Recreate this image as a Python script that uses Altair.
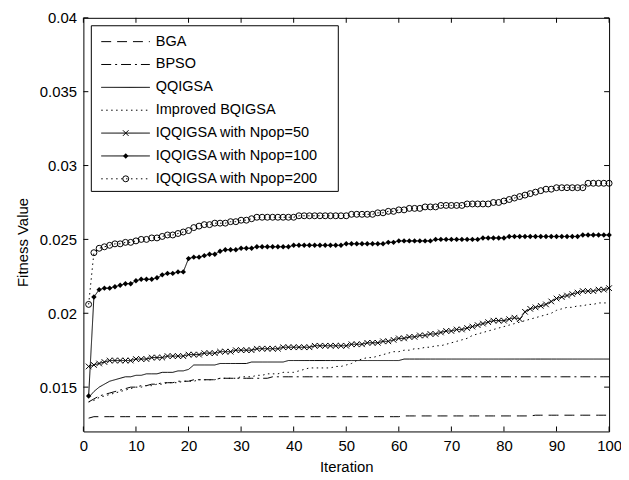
import altair as alt
import pandas as pd

iterations = list(range(1, 101))

series_names = [
    "BGA",
    "BPSO",
    "QQIGSA",
    "Improved BQIGSA",
    "IQQIGSA with Npop=50",
    "IQQIGSA with Npop=100",
    "IQQIGSA with Npop=200",
]

bga = [
    0.0129, 0.0130, 0.0130, 0.0130, 0.0130, 0.0130, 0.0130, 0.0130, 0.0130, 0.0130,
    0.0130, 0.0130, 0.0130, 0.0130, 0.0130, 0.0130, 0.0130, 0.0130, 0.0130, 0.0130,
    0.0130, 0.0130, 0.0130, 0.0130, 0.0130, 0.0130, 0.0130, 0.0130, 0.0130, 0.0130,
    0.0130, 0.0130, 0.0130, 0.0130, 0.0130, 0.0130, 0.0130, 0.0130, 0.0130, 0.0130,
    0.0130, 0.0130, 0.0130, 0.0130, 0.0130, 0.0130, 0.0130, 0.0130, 0.0130, 0.0130,
    0.0130, 0.0130, 0.0130, 0.0130, 0.0130, 0.0130, 0.0130, 0.0130, 0.0130, 0.0130,
    0.01305, 0.01305, 0.01305, 0.01305, 0.01305, 0.01305, 0.01305, 0.01305, 0.01305, 0.01305,
    0.01305, 0.01305, 0.01305, 0.01305, 0.01305, 0.01305, 0.01305, 0.01305, 0.01305, 0.01305,
    0.01305, 0.01305, 0.01305, 0.01305, 0.01305, 0.0131, 0.0131, 0.0131, 0.0131, 0.0131,
    0.0131, 0.0131, 0.0131, 0.0131, 0.0131, 0.0131, 0.0131, 0.0131, 0.0131, 0.0131,
]

bpso = [
    0.0140, 0.0142, 0.0144, 0.0145, 0.0146, 0.0147, 0.0148, 0.0149, 0.0150, 0.0150,
    0.0151, 0.0151, 0.0152, 0.0152, 0.0153, 0.0153, 0.0153, 0.0154, 0.0154, 0.0154,
    0.0155, 0.0155, 0.0155, 0.0155, 0.0155, 0.0156, 0.0156, 0.0156, 0.0156, 0.0156,
    0.0156, 0.0156, 0.0156, 0.0156, 0.0156, 0.0157, 0.0157, 0.0157, 0.0157, 0.0157,
    0.0157, 0.0157, 0.0157, 0.0157, 0.0157, 0.0157, 0.0157, 0.0157, 0.0157, 0.0157,
    0.0157, 0.0157, 0.0157, 0.0157, 0.0157, 0.0157, 0.0157, 0.0157, 0.0157, 0.0157,
    0.0157, 0.0157, 0.0157, 0.0157, 0.0157, 0.0157, 0.0157, 0.0157, 0.0157, 0.0157,
    0.0157, 0.0157, 0.0157, 0.0157, 0.0157, 0.0157, 0.0157, 0.0157, 0.0157, 0.0157,
    0.0157, 0.0157, 0.0157, 0.0157, 0.0157, 0.0157, 0.0157, 0.0157, 0.0157, 0.0157,
    0.0157, 0.0157, 0.0157, 0.0157, 0.0157, 0.0157, 0.0157, 0.0157, 0.0157, 0.0157,
]

qqigsa = [
    0.0143, 0.0147, 0.0150, 0.0152, 0.0154, 0.0155, 0.0156, 0.0157, 0.0157, 0.0158,
    0.0158, 0.0159, 0.0159, 0.0159, 0.0160, 0.0160, 0.0160, 0.0161, 0.0161, 0.0162,
    0.0165, 0.0165, 0.0165, 0.0165, 0.0165, 0.0166, 0.0166, 0.0166, 0.0166, 0.0166,
    0.0166, 0.0167, 0.0167, 0.0167, 0.0167, 0.0167, 0.0167, 0.0167, 0.0168, 0.0168,
    0.0168, 0.0168, 0.0168, 0.0168, 0.0168, 0.0168, 0.0168, 0.0168, 0.0168, 0.0168,
    0.0168, 0.0168, 0.0168, 0.0168, 0.0168, 0.0168, 0.0168, 0.0168, 0.0168, 0.0168,
    0.0169, 0.0169, 0.0169, 0.0169, 0.0169, 0.0169, 0.0169, 0.0169, 0.0169, 0.0169,
    0.0169, 0.0169, 0.0169, 0.0169, 0.0169, 0.0169, 0.0169, 0.0169, 0.0169, 0.0169,
    0.0169, 0.0169, 0.0169, 0.0169, 0.0169, 0.0169, 0.0169, 0.0169, 0.0169, 0.0169,
    0.0169, 0.0169, 0.0169, 0.0169, 0.0169, 0.0169, 0.0169, 0.0169, 0.0169, 0.0169,
]

improved_bqigsa = [
    0.0140, 0.0141, 0.0143, 0.0144, 0.0145, 0.0146, 0.0147, 0.0148, 0.0149, 0.0150,
    0.0150, 0.0151, 0.0151, 0.0152, 0.0152, 0.0153, 0.0153, 0.0153, 0.0154, 0.0154,
    0.0154, 0.0155, 0.0155, 0.0155, 0.0155, 0.0156, 0.0156, 0.0156, 0.0156, 0.0157,
    0.0157, 0.0157, 0.0158, 0.0158, 0.0159, 0.0159, 0.0159, 0.0160, 0.0160, 0.0160,
    0.0161, 0.0162, 0.0163, 0.0163, 0.0163, 0.0163, 0.0163, 0.0164, 0.0164, 0.0165,
    0.0166, 0.0168, 0.0169, 0.0170, 0.0170, 0.0171, 0.0172, 0.0173, 0.0174, 0.0174,
    0.0175, 0.0175, 0.0176, 0.0176, 0.0177, 0.0177, 0.0178, 0.0178, 0.0179, 0.0180,
    0.0181, 0.0182, 0.0183, 0.0185, 0.0186, 0.0187, 0.0188, 0.0189, 0.0190, 0.0191,
    0.0192, 0.0193, 0.0194, 0.0195, 0.0196, 0.0197, 0.0198, 0.0199, 0.0200, 0.0202,
    0.0203, 0.0204, 0.0204, 0.0205, 0.0205, 0.0206, 0.0206, 0.0207, 0.0207, 0.0207,
]

npop50 = [
    0.0164, 0.0165, 0.0166, 0.0167, 0.0168, 0.0168, 0.0168, 0.0168, 0.0168, 0.0169,
    0.0169, 0.0169, 0.0170, 0.0170, 0.0170, 0.0171, 0.0171, 0.0171, 0.0171, 0.0172,
    0.0172, 0.0172, 0.0173, 0.0173, 0.0173, 0.0174, 0.0174, 0.0174, 0.0175, 0.0175,
    0.0175, 0.0175, 0.0176, 0.0176, 0.0176, 0.0176, 0.0176, 0.0177, 0.0177, 0.0177,
    0.0177, 0.0177, 0.0177, 0.0178, 0.0178, 0.0178, 0.0178, 0.0178, 0.0178, 0.0178,
    0.0179, 0.0179, 0.0179, 0.0180, 0.0180, 0.0180, 0.0181, 0.0181, 0.0182, 0.0183,
    0.0183, 0.0184, 0.0184, 0.0185, 0.0185, 0.0186, 0.0186, 0.0187, 0.0188, 0.0188,
    0.0189, 0.0189, 0.0190, 0.0191, 0.0192, 0.0193, 0.0194, 0.0195, 0.0195, 0.0195,
    0.0196, 0.0197, 0.0196, 0.0201, 0.0203, 0.0204, 0.0205, 0.0206, 0.0208, 0.0210,
    0.0211, 0.0212, 0.0213, 0.0214, 0.0215, 0.0215, 0.0215, 0.0216, 0.0216, 0.0217,
]

npop100 = [
    0.0144, 0.0211, 0.0216, 0.0217, 0.0217, 0.0218, 0.0219, 0.0220, 0.0220, 0.0222,
    0.0223, 0.0223, 0.0223, 0.0224, 0.0226, 0.0227, 0.0227, 0.0228, 0.0228, 0.0237,
    0.0238, 0.0238, 0.0239, 0.0240, 0.0240, 0.0242, 0.0243, 0.0243, 0.0243, 0.0244,
    0.0244, 0.0244, 0.0245, 0.0245, 0.0245, 0.0245, 0.0245, 0.0245, 0.0245, 0.0246,
    0.0246, 0.0246, 0.0246, 0.0246, 0.0246, 0.0246, 0.0246, 0.0246, 0.0246, 0.0247,
    0.0247, 0.0247, 0.0247, 0.0247, 0.0247, 0.0247, 0.0247, 0.0248, 0.0248, 0.0249,
    0.0249, 0.0249, 0.0249, 0.0249, 0.0249, 0.0249, 0.0250, 0.0250, 0.0250, 0.0250,
    0.0250, 0.0250, 0.0250, 0.0250, 0.0250, 0.0251, 0.0251, 0.0251, 0.0251, 0.0251,
    0.0252, 0.0252, 0.0252, 0.0252, 0.0252, 0.0252, 0.0252, 0.0252, 0.0252, 0.0252,
    0.0252, 0.0252, 0.0252, 0.0252, 0.0253, 0.0253, 0.0253, 0.0253, 0.0253, 0.0253,
]

npop200 = [
    0.0206, 0.0241, 0.0244, 0.0245, 0.0246, 0.0247, 0.0247, 0.0248, 0.0248, 0.0249,
    0.0250, 0.0250, 0.0251, 0.0251, 0.0252, 0.0253, 0.0253, 0.0254, 0.0255, 0.0256,
    0.0258, 0.0259, 0.0260, 0.0260, 0.0261, 0.0261, 0.0261, 0.0262, 0.0262, 0.0263,
    0.0263, 0.0264, 0.0265, 0.0265, 0.0265, 0.0265, 0.0265, 0.0265, 0.0265, 0.0265,
    0.0266, 0.0266, 0.0266, 0.0266, 0.0266, 0.0266, 0.0266, 0.0266, 0.0266, 0.0266,
    0.0267, 0.0267, 0.0267, 0.0267, 0.0267, 0.0268, 0.0268, 0.0269, 0.0269, 0.0270,
    0.0270, 0.0271, 0.0271, 0.0271, 0.0272, 0.0272, 0.0272, 0.0273, 0.0273, 0.0273,
    0.0273, 0.0273, 0.0274, 0.0274, 0.0274, 0.0274, 0.0274, 0.0275, 0.0275, 0.0276,
    0.0277, 0.0278, 0.0279, 0.0280, 0.0281, 0.0282, 0.0283, 0.0284, 0.0284, 0.0285,
    0.0285, 0.0285, 0.0285, 0.0285, 0.0285, 0.0288, 0.0288, 0.0288, 0.0288, 0.0288,
]

all_values = [bga, bpso, qqigsa, improved_bqigsa, npop50, npop100, npop200]

x_ticks = [0, 10, 20, 30, 40, 50, 60, 70, 80, 90, 100]
y_ticks = [0.015, 0.02, 0.025, 0.03, 0.035, 0.04]

# ---- styling ----
FONT = "Liberation Sans"
W, H = 530, 417
dash_range = [[10, 6], [10, 4, 2, 4], [1, 0], [1.5, 3.5], [1, 0], [1, 0], [1.5, 3.5]]
marker_specs = {
    "IQQIGSA with Npop=50": dict(shape="M-1,-1L1,1M-1,1L1,-1", filled=False, size=32),
    "IQQIGSA with Npop=100": dict(shape="diamond", filled=True, size=30),
    "IQQIGSA with Npop=200": dict(shape="circle", filled=False, size=36),
}

rows = []
for name, vals in zip(series_names, all_values):
    for it, v in zip(iterations, vals):
        rows.append({"series": name, "iteration": it, "value": v})
df = pd.DataFrame(rows)

xs = alt.Scale(domain=[0, 100], nice=False, zero=False)
ys = alt.Scale(domain=[0.012, 0.04], nice=False, zero=False)
dash_scale = alt.Scale(domain=series_names, range=dash_range)

x_axis = alt.Axis(values=x_ticks, title="Iteration", ticks=False, domain=False, grid=False,
                  labelFont=FONT, labelFontSize=15, labelColor="black", labelPadding=7,
                  labelFlush=False,
                  titleFont=FONT, titleFontSize=15, titleFontWeight="normal", titleColor="black",
                  titleBaseline="alphabetic", titleY=40)
y_axis = alt.Axis(values=y_ticks, format="~g", title="Fitness Value", ticks=False, domain=False,
                  grid=False, labelFont=FONT, labelFontSize=15, labelColor="black", labelPadding=7,
                  labelFlush=False,
                  titleFont=FONT, titleFontSize=15, titleFontWeight="normal", titleColor="black",
                  titleAngle=270, titleBaseline="middle", titleAlign="center", titleX=-61, titleY=226)

lines = alt.Chart(df).mark_line(color="black", strokeWidth=1).encode(
    x=alt.X("iteration:Q", scale=xs, axis=x_axis),
    y=alt.Y("value:Q", scale=ys, axis=y_axis),
    strokeDash=alt.StrokeDash("series:N", scale=dash_scale, legend=None),
    order="iteration:Q",
)

layers = [lines]
for name, spec in marker_specs.items():
    layers.append(
        alt.Chart(df).transform_filter(alt.datum.series == name).mark_point(
            shape=spec["shape"], filled=spec["filled"], size=spec["size"],
            color="black", strokeWidth=1, opacity=1,
        ).encode(x=alt.X("iteration:Q", scale=xs), y=alt.Y("value:Q", scale=ys))
    )

# inward ticks on all four sides
xt = pd.DataFrame({"v": x_ticks})
yt = pd.DataFrame({"v": y_ticks})
tick_len = 5
layers += [
    alt.Chart(xt).mark_rule(color="black", strokeWidth=1).encode(
        x=alt.X("v:Q", scale=xs), y=alt.value(H), y2=alt.value(H - tick_len)),
    alt.Chart(xt).mark_rule(color="black", strokeWidth=1).encode(
        x=alt.X("v:Q", scale=xs), y=alt.value(0), y2=alt.value(tick_len)),
    alt.Chart(yt).mark_rule(color="black", strokeWidth=1).encode(
        y=alt.Y("v:Q", scale=ys), x=alt.value(0), x2=alt.value(tick_len)),
    alt.Chart(yt).mark_rule(color="black", strokeWidth=1).encode(
        y=alt.Y("v:Q", scale=ys), x=alt.value(W - tick_len), x2=alt.value(W)),
]

# legend box (upper left, inside axes)
leg_top, leg_step = 24, 23.05
leg = pd.DataFrame({"series": series_names,
                    "ly": [leg_top + i * leg_step for i in range(len(series_names))]})
layers.append(
    alt.Chart(alt.Data(values=[{"box": 1}])).mark_rect(
        fill="white", stroke="black", strokeWidth=1).encode(
        x=alt.value(8), x2=alt.value(257), y=alt.value(8), y2=alt.value(175))
)
layers.append(
    alt.Chart(leg).mark_rule(color="black", strokeWidth=1).encode(
        x=alt.value(18), x2=alt.value(67), y=alt.Y("ly:Q", scale=None),
        strokeDash=alt.StrokeDash("series:N", scale=dash_scale, legend=None))
)
for name, spec in marker_specs.items():
    layers.append(
        alt.Chart(leg).transform_filter(alt.datum.series == name).mark_point(
            shape=spec["shape"], filled=spec["filled"], size=spec["size"],
            color="black", strokeWidth=1, opacity=1,
        ).encode(x=alt.value(42.7), y=alt.Y("ly:Q", scale=None))
    )
layers.append(
    alt.Chart(leg).mark_text(align="left", baseline="middle", font=FONT, fontSize=14.6,
                             color="black").encode(
        x=alt.value(73), y=alt.Y("ly:Q", scale=None), text="series:N")
)

chart = alt.layer(*layers).properties(
    width=W, height=H,
    padding={"left": 76, "top": 8, "right": 12, "bottom": 41},
    autosize=alt.AutoSizeParams(type="none"),
    background="white",
).configure_view(stroke="black", strokeWidth=1)

chart.save("out.html", embed_options={"renderer": "svg", "actions": False})
